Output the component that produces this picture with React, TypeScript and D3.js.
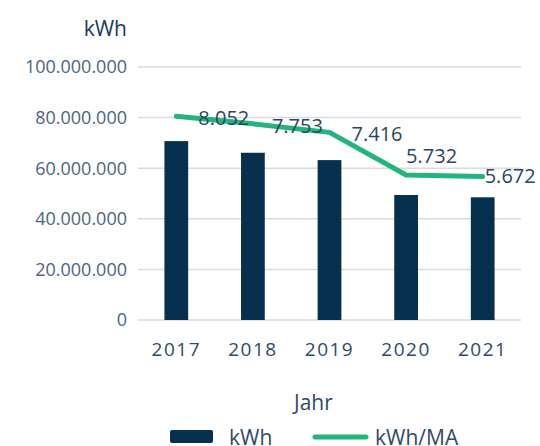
import React from "react";
import * as d3 from "d3";

const years = ["2017", "2018", "2019", "2020", "2021"];
const kwh = [70700000, 66100000, 63200000, 49400000, 48500000];
const kwhPerMA = [8.052, 7.753, 7.416, 5.732, 5.672];
const kwhPerMALabels = ["8.052", "7.753", "7.416", "5.732", "5.672"];
const yTicks = [0, 20000000, 40000000, 60000000, 80000000, 100000000];

const W = 540;
const H = 446;
const left = 138;
const right = 521;
const bottom = 320;
const top = 67;
const FONT = "'Open Sans', 'Noto Sans', sans-serif";

// label offsets relative to point (placement style)
const labelDX = [22, 19, 22, 0, 2];
const labelDY = [2, 2, 2, -19, 0];

const fmt = (v: number) => d3.format(",")(v).replace(/,/g, ".");

export default function App() {
  const x = d3.scaleBand<string>().domain(years).range([left, right]).paddingInner(0.69).paddingOuter(0.345);
  const y = d3.scaleLinear().domain([0, 100000000]).range([bottom, top]);
  const y2 = d3.scaleLinear().domain([0, 10]).range([bottom, top]);
  const cx = (d: string) => (x(d) as number) + x.bandwidth() / 2;
  const line = d3
    .line<number>()
    .x((_, i) => cx(years[i]))
    .y((v) => y2(v));

  return (
    <svg width={W} height={H} style={{ position: "absolute", left: 0, top: 0 }} fontFamily={FONT}>
      <rect width={W} height={H} fill="#ffffff" />
      <text x={127} y={36} textAnchor="end" fontSize={21} fill="#1d3954">kWh</text>
      {yTicks.map((t) => (
        <g key={t}>
          <line x1={left} x2={right} y1={y(t)} y2={y(t)} stroke="#d9dbe1" strokeWidth={1.5} />
          <text x={127} y={y(t)} dy="0.35em" textAnchor="end" fontSize={18} fill="#4d6580">
            {fmt(t)}
          </text>
        </g>
      ))}
      {years.map((yr, i) => (
        <rect key={yr} x={x(yr)} y={y(kwh[i])} width={x.bandwidth()} height={bottom - y(kwh[i])} fill="#07304f" />
      ))}
      {years.map((yr) => (
        <text key={yr} x={cx(yr)} y={356} textAnchor="middle" fontSize={19} letterSpacing={1.5} fill="#2f4a66">
          {yr}
        </text>
      ))}
      <path d={line(kwhPerMA) as string} fill="none" stroke="#22b67d" strokeWidth={5} strokeLinejoin="round" strokeLinecap="round" />
      {years.map((yr, i) => (
        <text
          key={yr}
          x={cx(yr) + labelDX[i]}
          y={y2(kwhPerMA[i]) + labelDY[i]}
          dy="0.35em"
          textAnchor="start"
          fontSize={20}
          fill="#2c4560"
        >
          {kwhPerMALabels[i]}
        </text>
      ))}
      <text x={294} y={410} fontSize={21} fill="#2f4a66">Jahr</text>
      <rect x={170} y={430} width={43} height={13} rx={2} fill="#07304f" />
      <text x={229} y={445} fontSize={21} fill="#2f4a66">kWh</text>
      <line x1={315} x2={366} y1={437} y2={437} stroke="#22b67d" strokeWidth={5} strokeLinecap="round" />
      <text x={375} y={445} fontSize={21} fill="#2f4a66">kWh/MA</text>
    </svg>
  );
}
